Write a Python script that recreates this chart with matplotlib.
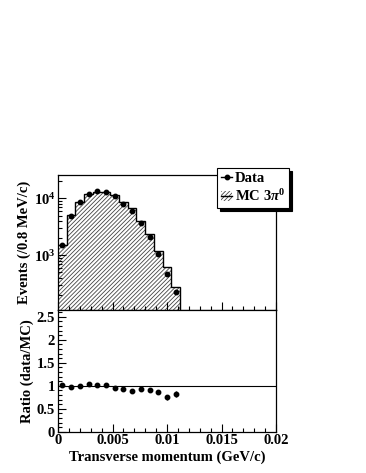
import numpy as np
import matplotlib
matplotlib.use('Agg')
import matplotlib.pyplot as plt
from matplotlib.lines import Line2D
from matplotlib.patches import Patch
from matplotlib.ticker import MultipleLocator, LogLocator, FixedLocator, NullFormatter

plt.rcParams['font.family'] = 'Liberation Serif'
plt.rcParams['font.weight'] = 'bold'
plt.rcParams['mathtext.fontset'] = 'custom'
plt.rcParams['mathtext.rm'] = 'Liberation Serif:bold'
plt.rcParams['mathtext.it'] = 'Liberation Serif:bold:italic'
plt.rcParams['mathtext.bf'] = 'Liberation Serif:bold'
plt.rcParams['hatch.linewidth'] = 0.6

# 0.8 MeV/c bins from 0 to 0.02 GeV/c
edges = np.linspace(0, 0.02, 26)
mc_counts = [1500, 5100, 8700, 11800, 13100, 12800, 11400, 8700, 6700, 4030,
             2350, 1200, 620, 270] + [0] * 11
data_counts = [1515, 5000, 8700, 12150, 13360, 12930, 10940, 8090, 5960, 3750,
               2115, 1030, 465, 221]
ratio_err = [0.02, 0.01, 0.01, 0.01, 0.01, 0.01, 0.01, 0.01, 0.01, 0.015,
             0.02, 0.03, 0.05, 0.07]
x_ticks = [0, 0.005, 0.01, 0.015, 0.02]
x_tick_labels = ['0', '0.005', '0.01', '0.015', '0.02']
r_ticks = [0, 0.5, 1, 1.5, 2, 2.5]
r_tick_labels = ['0', '0.5', '1', '1.5', '2', '2.5']

mc = np.array(mc_counts, dtype=float)
data = np.array(data_counts, dtype=float)
centers = 0.5 * (edges[:-1] + edges[1:])
n = len(data)
ratio = data / mc[:n]

fig = plt.figure(figsize=(3.66, 4.73), dpi=100)
ax1 = fig.add_axes([0.1585, 0.3446, 0.5956, 0.2854])
ax2 = fig.add_axes([0.1585, 0.0873, 0.5956, 0.2573])

fs = 10.5

# top panel
ymin, ymax = 107, 2.6e4
mc_plot = np.where(mc > 0, mc, ymin * 0.5)
ax1.stairs(mc_plot, edges, baseline=ymin * 0.5, fill=True, facecolor='white',
           edgecolor='#444444', hatch='////////', linewidth=0)
ax1.stairs(mc_plot, edges, baseline=None, color='black', linewidth=1.0)
ax1.plot(centers[:n], data, 'o', color='black', markersize=3.2)
ax1.set_yscale('log')
ax1.set_xlim(0, 0.02)
ax1.set_ylim(ymin, ymax)
ax1.set_ylabel('Events (/0.8 MeV/c)', fontsize=fs, fontweight='bold', labelpad=2)
ax1.yaxis.set_major_locator(LogLocator(base=10))
ax1.yaxis.set_minor_locator(LogLocator(base=10, subs=np.arange(2, 10)))
ax1.yaxis.set_minor_formatter(NullFormatter())
ax1.xaxis.set_major_locator(FixedLocator(x_ticks))
ax1.xaxis.set_minor_locator(MultipleLocator(0.001))
ax1.tick_params(axis='x', labelbottom=False)

# ratio panel
ax2.axhline(1.0, color='black', linewidth=0.8)
ax2.errorbar(centers[:n], ratio, yerr=ratio_err, fmt='o', color='black',
             markersize=3.2, elinewidth=0.9, capsize=0)
ax2.set_xlim(0, 0.02)
ax2.set_ylim(0, 2.65)
ax2.set_ylabel('Ratio (data/MC)', fontsize=fs, fontweight='bold', labelpad=2)
ax2.set_xlabel('Transverse momentum (GeV/c)', fontsize=fs, fontweight='bold', labelpad=2)
ax2.yaxis.set_major_locator(FixedLocator(r_ticks))
ax2.yaxis.set_minor_locator(MultipleLocator(0.1))
ax2.set_yticklabels(r_tick_labels)
ax2.xaxis.set_major_locator(FixedLocator(x_ticks))
ax2.xaxis.set_minor_locator(MultipleLocator(0.001))
ax2.set_xticklabels(x_tick_labels)

for ax in (ax1, ax2):
    ax.tick_params(which='both', direction='in', top=False, right=False,
                   labelsize=fs, pad=2)
    ax.tick_params(which='major', length=6, width=0.8)
    ax.tick_params(which='minor', length=3, width=0.8)
    for lab in ax.get_xticklabels() + ax.get_yticklabels():
        lab.set_fontweight('bold')
    for s in ax.spines.values():
        s.set_linewidth(0.9)

# legend
h_data = Line2D([], [], color='black', marker='o', markersize=3.2, linewidth=1.0)
h_mc = (Patch(facecolor='white', edgecolor='#444444', hatch='////////', linewidth=0),
        Line2D([], [], color='black', linewidth=1.0))
leg = fig.legend([h_data, h_mc], ['Data', r'MC 3$\pi^0$'], loc='upper left',
                 bbox_to_anchor=(0.593, 0.645), borderaxespad=0,
                 fancybox=False, shadow={'color': 'black', 'alpha': 1},
                 framealpha=1, edgecolor='black', handlelength=0.8,
                 handletextpad=0.15, borderpad=0.25, labelspacing=0.25,
                 prop={'family': 'Liberation Serif', 'weight': 'bold', 'size': 10.5})
leg.get_frame().set_linewidth(0.8)

fig.savefig('out.png', dpi=100)
